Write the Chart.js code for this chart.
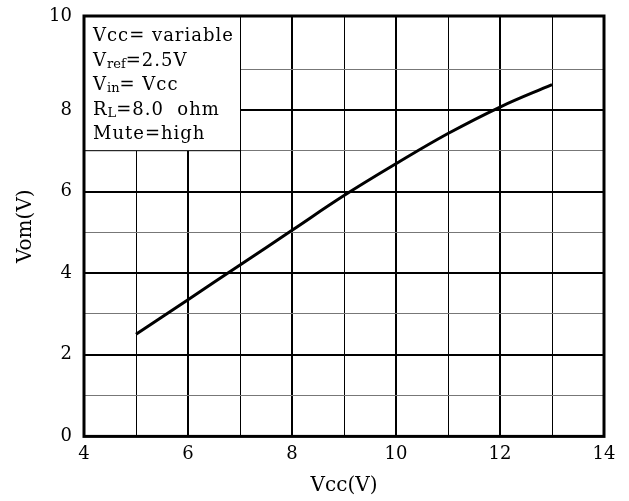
<!DOCTYPE html>
<html>
<head>
<meta charset="utf-8">
<script src="https://cdn.jsdelivr.net/npm/chart.js@4/dist/chart.umd.min.js"></script>
<style>
  body { margin: 0; background: #fff; }
  canvas { display: block; }
</style>
</head>
<body>
<canvas id="vomChart" width="629" height="501"></canvas>
<script>
// Vom vs Vcc curve
const vccValues = [5, 6, 7, 8, 9, 10, 11, 12, 13];
const vomValues = [2.5, 3.35, 4.2, 5.05, 5.9, 6.68, 7.42, 8.07, 8.62];
const xTickLabels = [4, 6, 8, 10, 12, 14];
const yTickLabels = [0, 2, 4, 6, 8, 10];
const yTop = 10.3; // top row of the original grid is a bit taller
const noteLines = [
  ['Vcc= variable'],
  ['V', 'ref', '=2.5V'],
  ['V', 'in', '= Vcc'],
  ['R', 'L', '=8.0  ohm'],
  ['Mute=high']
];

const serif = '"DejaVu Serif", "Liberation Serif", serif';
const ctx = document.getElementById('vomChart').getContext('2d');

const frameAndNote = {
  id: 'frameAndNote',
  beforeDatasetsDraw(chart) {
    const { ctx, scales: { x, y } } = chart;
    const left = x.getPixelForValue(4);
    const right = x.getPixelForValue(7);
    const top = y.getPixelForValue(yTop);
    const bottom = y.getPixelForValue(7);
    ctx.save();
    ctx.fillStyle = '#fff';
    ctx.fillRect(left, top, right - left, bottom - top);
    ctx.strokeStyle = '#000';
    ctx.lineWidth = 1;
    ctx.strokeRect(left + 0.5, top, right - left, bottom - top);
    ctx.fillStyle = '#000';
    ctx.textBaseline = 'alphabetic';
    let baseY = top + 25;
    noteLines.forEach(parts => {
      let tx = left + 9;
      parts.forEach((p, i) => {
        const isSub = parts.length === 3 && i === 1;
        ctx.font = isSub ? '13px ' + serif : '18px ' + serif;
        ctx.letterSpacing = isSub ? '0px' : '1px';
        ctx.fillText(p, tx, isSub ? baseY + 2 : baseY);
        tx += ctx.measureText(p).width;
      });
      baseY += 24.5;
    });
    ctx.restore();
  },
  afterDraw(chart) {
    const { ctx, chartArea: a } = chart;
    ctx.save();
    ctx.strokeStyle = '#000';
    ctx.lineWidth = 3;
    ctx.strokeRect(a.left, a.top, a.right - a.left, a.bottom - a.top);
    ctx.restore();
  }
};

new Chart(ctx, {
  type: 'line',
  data: {
    datasets: [{
      data: vccValues.map((v, i) => ({ x: v, y: vomValues[i] })),
      borderColor: '#000',
      borderWidth: 3,
      pointRadius: 0,
      tension: 0.4,
      fill: false
    }]
  },
  plugins: [frameAndNote],
  options: {
    responsive: false,
    animation: false,
    layout: { padding: { left: 0, right: 25, top: 16, bottom: 3 } },
    plugins: { legend: { display: false }, tooltip: { enabled: false } },
    scales: {
      x: {
        type: 'linear',
        min: 4,
        max: 14,
        afterBuildTicks: axis => {
          axis.ticks = [];
          for (let v = 4; v <= 14; v++) axis.ticks.push({ value: v });
        },
        ticks: {
          autoSkip: false,
          maxRotation: 0,
          padding: 7,
          color: '#000',
          font: { family: serif, size: 18 },
          callback: v => xTickLabels.includes(v) ? String(v) : ''
        },
        grid: {
          color: '#000',
          lineWidth: c => (c.tick && c.tick.value % 2 === 0) ? 2 : 1,
          drawTicks: false
        },
        border: { display: false },
        title: {
          display: true,
          text: 'Vcc(V)',
          color: '#000',
          font: { family: serif, size: 20 },
          padding: { top: 2, bottom: 0 }
        }
      },
      y: {
        type: 'linear',
        min: 0,
        max: yTop,
        afterBuildTicks: axis => {
          axis.ticks = [];
          for (let v = 0; v <= 9; v++) axis.ticks.push({ value: v });
          axis.ticks.push({ value: yTop });
        },
        afterFit: axis => {
          axis.width = 84;
          axis.paddingTop = 0;
          axis.paddingBottom = 0;
        },
        ticks: {
          autoSkip: false,
          padding: 12,
          color: '#000',
          font: { family: serif, size: 18 },
          callback: v => v === yTop ? '10' : (yTickLabels.includes(v) ? String(v) : '')
        },
        grid: {
          color: c => (c.tick && c.tick.value % 2 === 1) ? '#777' : '#000',
          lineWidth: c => (c.tick && c.tick.value % 2 === 0) ? 2 : 1,
          drawTicks: false
        },
        border: { display: false },
        title: {
          display: true,
          text: 'Vom(V)',
          color: '#000',
          font: { family: serif, size: 20 },
          padding: { top: 14, bottom: 8 }
        }
      }
    }
  }
});
</script>
</body>
</html>
